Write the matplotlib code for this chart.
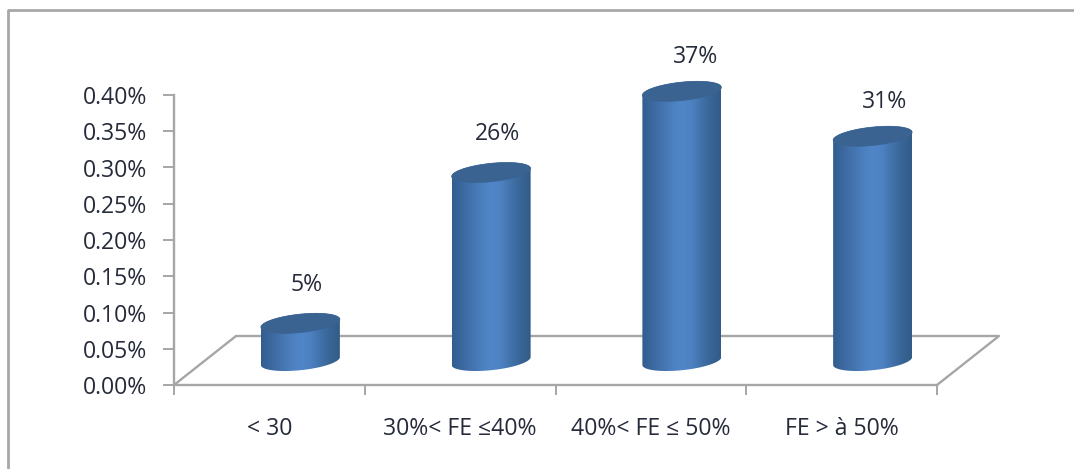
import numpy as np
import matplotlib
matplotlib.use("Agg")
import matplotlib.pyplot as plt
from matplotlib.colors import LinearSegmentedColormap
from matplotlib.lines import Line2D
from matplotlib.path import Path
from matplotlib.patches import PathPatch

categories = ["< 30", "30%< FE ≤40%", "40%< FE ≤ 50%", "FE > à 50%"]
values = [0.052, 0.26, 0.372, 0.31]
labels = ["5%", "26%", "37%", "31%"]
yticks = [0.00, 0.05, 0.10, 0.15, 0.20, 0.25, 0.30, 0.35, 0.40]

W, H = 1074, 469
plt.rcParams["font.family"] = ["Open Sans", "DejaVu Sans"]
TXT = "#262b3a"
GRID = "#a6a6a6"

fig = plt.figure(figsize=(W / 100, H / 100), dpi=100, facecolor="white")
L, R, T, B = 174, 937, 95, 385
ax = fig.add_axes([L / W, 1 - B / H, (R - L) / W, (B - T) / H])
ax.patch.set_visible(False)
for s in ("top", "right"):
    ax.spines[s].set_visible(False)
for s in ("left", "bottom"):
    ax.spines[s].set_color(GRID)
    ax.spines[s].set_linewidth(1.7)

ax.set_yticks(yticks)
ax.set_yticklabels([f"{v:.2f}%" for v in yticks], fontsize=16.6, color=TXT)
ax.set_xticks(range(5))
ax.set_xticklabels([""] * 5)
ax.tick_params(axis="y", color=GRID, width=1.4, length=8, pad=11)
ax.tick_params(axis="x", color=GRID, width=1.4, length=7.5)

# pixel <-> data scales
sx = (R - L) / 4
sy = (B - T) / 0.40
dx, dy = 62 / sx, 49 / sy          # floor depth
cx_off, cy_off = 31 / sx, 24 / sy  # cylinder centre offset in depth

# floor
ax.plot([0, dx, 4 + dx, 4], [0, dy, dy, 0], color=GRID, lw=1.7, clip_on=False, zorder=1)

# category labels
for i, c in enumerate(categories):
    ax.annotate(c, (i + 0.5, 0), xytext=(0, -44), textcoords="offset pixels",
                ha="center", va="center", fontsize=16.6, color=TXT, annotation_clip=False)

side = LinearSegmentedColormap.from_list(
    "side", ["#325d8e", "#3b689f", "#4473ae", "#4c7fbf", "#5086c8", "#4d81c1", "#4272ab", "#386595", "#335b88"])
grad = np.linspace(0, 1, 256).reshape(1, -1)

rx, ry = 39.5, 9.2   # ellipse half axes, px
tilt = 0.10          # rise per px

# label offsets from the top of each cylinder, px
lab_dx = [6, 6, 14, 12]
lab_dy = [38, 38, 34, 34]


def ellipse(cx, cy, a0=0, a1=2 * np.pi, n=80):
    """points of a tilted ellipse; centre in data units, radii in px"""
    t = np.linspace(a0, a1, n)
    ex = rx * np.cos(t)
    ey = ry * np.sin(t) + ex * tilt
    return cx + ex / sx, cy + ey / sy


for i, v in enumerate(values):
    cx = i + 0.5 + cx_off
    y0 = cy_off
    y1 = cy_off + v
    bx, by = ellipse(cx, y0, np.pi, 2 * np.pi)
    tx, ty = ellipse(cx, y1, 0, np.pi)
    verts = np.column_stack([np.r_[bx, tx], np.r_[by, ty]])
    verts = np.vstack([verts, verts[0]])
    clip = PathPatch(Path(verts, closed=True), fc="none", ec="none", transform=ax.transData,
                     clip_on=False)
    ax.add_patch(clip)
    im = ax.imshow(grad, cmap=side, aspect="auto", zorder=3, interpolation="bilinear",
                   extent=[cx - rx / sx, cx + rx / sx, y0 - 20 / sy, y1 + 20 / sy])
    im.set_clip_box(fig.bbox)
    im.set_clip_path(clip)
    ex, ey = ellipse(cx, y1)
    ax.fill(ex, ey, color="#3a6391", lw=0.5, zorder=4, clip_on=False)
    ax.annotate(labels[i], (cx, y1), xytext=(lab_dx[i], lab_dy[i]),
                textcoords="offset pixels", ha="center", va="center", fontsize=16.6,
                color=TXT, annotation_clip=False)

ax.set_xlim(0, 4)
ax.set_ylim(0, 0.40)


def fig_line(xs, ys):
    fig.add_artist(Line2D([x / W for x in xs], [1 - y / H for y in ys],
                          transform=fig.transFigure, color="#a8a8a8", lw=2.0))


fig_line([8, 8, 1074], [469, 10.5, 10.5])

fig.savefig("out.png", dpi=100)
